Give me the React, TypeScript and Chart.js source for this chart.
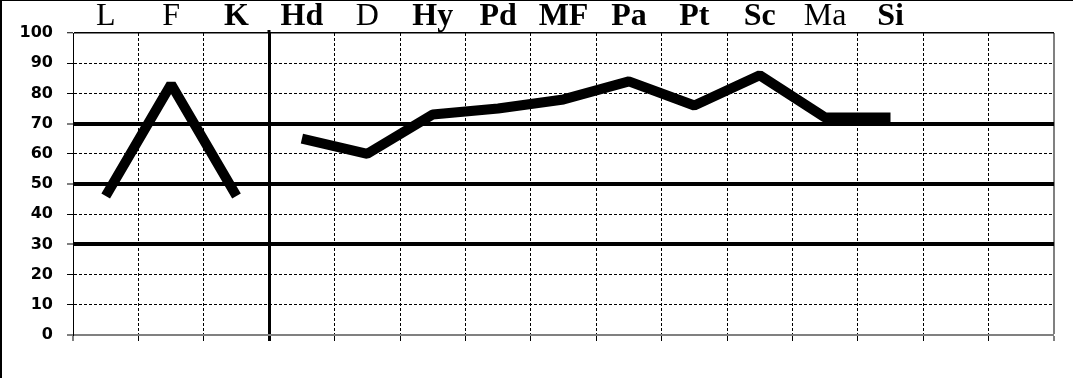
import React, { useEffect, useRef } from 'react';
import { Chart, registerables } from 'chart.js';

Chart.register(...registerables);

// Scale names shown along the top (last two columns are empty)
const scaleLabels = ['L', 'F', 'K', 'Hd', 'D', 'Hy', 'Pd', 'MF', 'Pa', 'Pt', 'Sc', 'Ma', 'Si', '', ''];
const boldLabels = [false, false, true, true, false, true, true, true, true, true, true, false, true, false, false];

// Validity scales (L, F, K)
const validityValues = [46, 83, 46, null, null, null, null, null, null, null, null, null, null, null, null];
// Clinical scales (Hd ... Si)
const clinicalValues = [null, null, null, 65, 60, 73, 75, 78, 84, 76, 86, 72, 72, null, null];

// Y axis
const yMin = 0;
const yMax = 100;
const yStep = 10;
const thickLevels = [30, 50, 70];
const dividerIndex = 3; // solid divider between K and Hd

const framePlugin = {
  id: 'frame',
  afterDraw(chart: any) {
    const c = chart.ctx;
    c.save();
    c.fillStyle = '#000';
    c.fillRect(0, 0, 2, chart.height);
    c.fillRect(0, 0, chart.width, 1);
    c.restore();
  },
};

const lineStyle = {
  borderColor: '#000',
  borderWidth: 10,
  pointRadius: 0,
  borderJoinStyle: 'bevel',
  borderCapStyle: 'butt',
  tension: 0,
  spanGaps: false,
  xAxisID: 'x',
  yAxisID: 'y',
};

export default function App() {
  const ref = useRef<HTMLCanvasElement>(null);

  useEffect(() => {
    document.body.style.margin = '0';
    const chart = new Chart(ref.current as HTMLCanvasElement, {
      type: 'line',
      data: {
        labels: scaleLabels,
        datasets: [
          { data: validityValues, ...lineStyle },
          { data: clinicalValues, ...lineStyle },
        ],
      },
      options: {
        animation: false,
        responsive: false,
        devicePixelRatio: 1,
        layout: { padding: { left: 0, top: 0, right: 19, bottom: 0 } },
        plugins: { legend: { display: false }, tooltip: { enabled: false } },
        events: [],
        scales: {
          xTop: {
            type: 'category',
            position: 'top',
            offset: true,
            grid: {
              offset: true,
              drawOnChartArea: false,
              drawTicks: true,
              tickLength: 3,
              lineWidth: 0,
              tickColor: '#000',
              tickWidth: (c: any) => (c.type === 'tick' && c.index === dividerIndex ? 3 : 0),
            },
            border: { display: false },
            ticks: {
              autoSkip: false,
              maxRotation: 0,
              minRotation: 0,
              padding: -3,
              color: '#000',
              font: (c: any) => ({
                family: '"Liberation Serif", "Times New Roman", serif',
                size: 32,
                weight: boldLabels[c.index] ? 'bold' : 'normal',
                lineHeight: 1,
              }),
            },
            afterFit: (s: any) => {
              s.height = 33;
            },
          },
          x: {
            type: 'category',
            position: 'bottom',
            offset: true,
            grid: {
              offset: true,
              color: (c: any) => (c.type !== 'tick' ? '#808080' : '#000'),
              lineWidth: (c: any) =>
                c.type !== 'tick' ? 2 : c.index === dividerIndex ? 3 : c.index === 0 ? 0 : 1,
              tickLength: 6,
              tickColor: '#000',
              tickWidth: (c: any) => (c.type === 'tick' && c.index === dividerIndex ? 3 : 1),
            },
            border: {
              display: true,
              color: '#808080',
              width: 2,
              dash: (c: any) => (c.type === 'tick' && c.index !== dividerIndex ? [3, 2] : []),
            },
            ticks: { display: false, autoSkip: false },
            afterFit: (s: any) => {
              s.height = 43;
            },
          },
          y: {
            type: 'linear',
            position: 'left',
            min: yMin,
            max: yMax,
            ticks: {
              stepSize: yStep,
              color: '#000',
              padding: 14,
              font: { family: '"DejaVu Sans", sans-serif', size: 16, weight: 'bold' },
            },
            grid: {
              color: (c: any) => (c.tick && c.tick.value === yMin ? '#808080' : '#000'),
              lineWidth: (c: any) => {
                const v = c.tick ? c.tick.value : undefined;
                if (thickLevels.includes(v)) return 4;
                if (v === yMax) return 1.5;
                if (v === yMin) return 2;
                return 1;
              },
              tickLength: 6,
              tickColor: '#000',
              tickWidth: 1,
            },
            border: {
              display: true,
              color: '#000',
              width: 1,
              dash: (c: any) => {
                const v = c.tick ? c.tick.value : undefined;
                return c.type === 'tick' && !thickLevels.includes(v) && v !== yMax && v !== yMin ? [3, 2] : [];
              },
            },
            afterFit: (s: any) => {
              s.width = 73;
            },
          },
        },
      },
      plugins: [framePlugin],
    } as any);
    return () => chart.destroy();
  }, []);

  return (
    <div style={{ position: 'absolute', left: 0, top: 0, width: 1073, height: 378, background: '#fff' }}>
      <canvas ref={ref} width={1073} height={378} style={{ display: 'block' }} />
    </div>
  );
}
